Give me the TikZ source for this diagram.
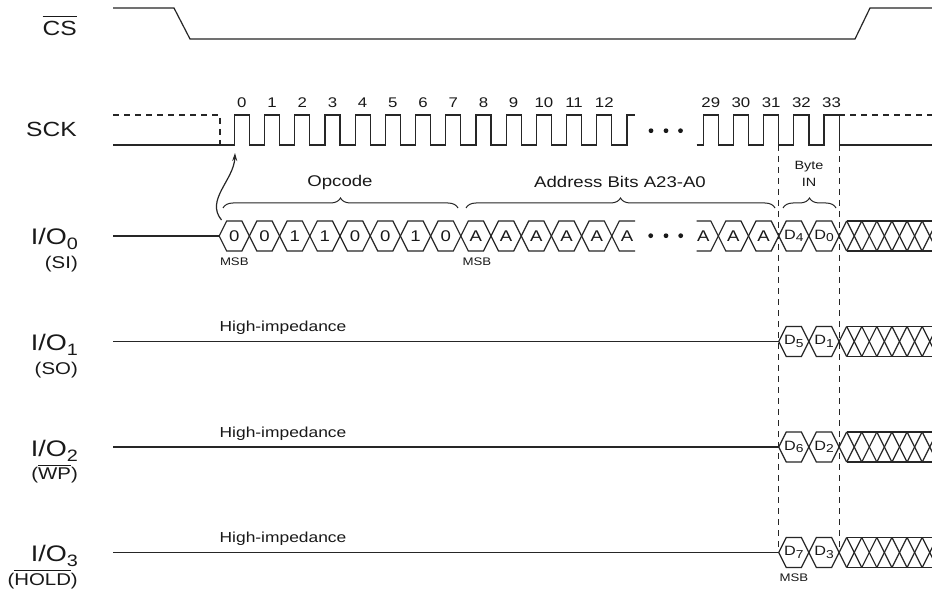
\documentclass[tikz,border=0pt]{standalone}
\usepackage{fontspec}
\setmainfont[FakeStretch=1.2]{Liberation Sans}
\usetikzlibrary{decorations.pathreplacing,arrows.meta}
\newcommand\myovl[2][2pt]{\leavevmode\vbox{\hrule height 1pt\kern#1\hbox{#2}}}
\newcommand\Dsub[1]{D\raisebox{-2.5pt}{\fontsize{11.5}{12}\selectfont #1}}
\newcommand\iosub[1]{\raisebox{-5pt}{\fontsize{16.5}{18}\selectfont #1}}
\newcommand\myhex[3]{% left x, row y, text
  \draw[sig] (#1,#2) -- ++(7.5,-15) -- ++(15.2,0) -- ++(7.5,15) -- ++(-7.5,15) -- ++(-15.2,0) -- cycle;}
\newcommand\myhatch[1]{%
  \begin{scope}
  \clip (835,0) rectangle (932,596);
  \draw[sig] (846.6,#1-15) -- (839.1,#1) -- (846.6,#1+15);
  \draw[sig] (846.6,#1-15) -- (940,#1-15);
  \draw[sig] (846.6,#1+15) -- (940,#1+15);
  \foreach \m in {1,...,7} {
    \draw[sig] ({839.1+15.1*\m-7.5},#1-15) -- ({839.1+15.1*\m+7.5},#1+15);
    \draw[sig] ({839.1+15.1*\m-7.5},#1+15) -- ({839.1+15.1*\m+7.5},#1-15);}
  \end{scope}}
\begin{document}
\begin{tikzpicture}[x=1pt,y=-1pt,
  sig/.style={line width=1.2pt,black!85,line join=miter},
  dsh/.style={sig,dash pattern=on 6pt off 5pt},
  big/.style={font=\fontsize{20.5}{24}\selectfont,inner sep=0pt,text=black!90},
  bigio/.style={font=\fontsize{22.5}{26}\selectfont,inner sep=0pt,text=black!90},
  sub/.style={font=\fontsize{17}{20}\selectfont,inner sep=0pt,text=black!90},
  mid/.style={font=\fontsize{15.5}{18}\selectfont,inner sep=0pt,text=black!90},
  hz/.style={font=\fontsize{14.5}{17}\selectfont,inner sep=0pt,text=black!90},
  num/.style={font=\fontsize{14}{16}\selectfont,inner sep=0pt,text=black!90},
  hexn/.style={font=\fontsize{15.5}{17}\selectfont,inner sep=0pt,text=black!90},
  dn/.style={font=\fontsize{13.5}{16}\selectfont,inner sep=0pt,text=black!90},
  small/.style={font=\fontsize{11}{12}\selectfont,inner sep=0pt,text=black!90},
  byte/.style={font=\fontsize{12}{13}\selectfont,inner sep=0pt,text=black!90},
  brc/.style={sig,line width=1pt,decorate,decoration={brace,amplitude=10pt}}]
\useasboundingbox (0,0) rectangle (932,596);
\fill[white] (0,0) rectangle (932,596);

% labels left
\node[big,anchor=base east] (cs) at (77,36) {\myovl[4.5pt]{CS}};
\node[big,anchor=base east] (sck) at (77,137) {SCK};
\node[bigio,anchor=base east] (io0) at (78,245) {I/O\iosub{0}};
\node[sub,anchor=base east] (si) at (78,268.5) {(SI)};
\node[bigio,anchor=base east] (io1) at (78,350.5) {I/O\iosub{1}};
\node[sub,anchor=base east] (so) at (78,374) {(SO)};
\node[bigio,anchor=base east] (io2) at (78,456) {I/O\iosub{2}};
\node[sub,anchor=base east] (wp) at (78,479.5) {(\myovl[2pt]{WP})};
\node[bigio,anchor=base east] (io3) at (78,561.5) {I/O\iosub{3}};
\node[sub,anchor=base east] (hold) at (78,585) {(\myovl[2pt]{HOLD})};

% CS
\draw[sig] (113,8) -- (174,8) -- (190,39) -- (855,39) -- (870,8) -- (932,8);

% SCK
\draw[dsh] (113,115) -- (220,115) -- (220,145);
\draw[sig] (113,145) \foreach \k in {0,...,12} { -- ({234.3+30.2*\k},145) -- ({234.3+30.2*\k},115) -- ({249.4+30.2*\k},115) -- ({249.4+30.2*\k},145) } -- (626.9,145) -- (626.9,115) -- (635,115);
\draw[sig] (696.7,145) \foreach \j in {0,...,4} { -- ({703.2+30.2*\j},145) -- ({703.2+30.2*\j},115) -- ({718.3+30.2*\j},115) -- ({718.3+30.2*\j},145) } -- (932,145);
\draw[dsh] (839.1,115) -- (932,115);
\foreach \k in {0,...,12} \node[num] (n\k) at ({241.85+30.2*\k},102.5) {\k};
\foreach \j/\t in {0/29,1/30,2/31,3/32,4/33} \node[num] (m\t) at ({710.75+30.2*\j},102.5) {\t};
\foreach \x in {651,666,680.5} \fill[black!90] (\x,130.7) circle (2.4);

% dashed markers
\coordinate (dA) at (778.7,145);
\coordinate (dB) at (839.1,145);
\coordinate (dAe) at (778.7,552.5);
\coordinate (dBe) at (839.1,552.5);
\draw[dsh] (dA) -- (dAe);
\draw[dsh] (dB) -- (dBe);

% braces
\draw[brc] (223,208) -- (458,208);
\draw[brc] (466,208) -- (775,208);
\draw[brc] (783,208) -- (836,208);
\node[mid] (opc) at (340,182) {Opcode};
\node[mid] (adr) at (620,182) {Address Bits A23-A0};
\node[byte] (byt) at (809,166.5) {Byte};
\node[byte] (bin) at (809,182.5) {IN};

% arrow
\coordinate (arS) at (221.5,220);
\coordinate (arE) at (235,153);
\draw[sig,-{Stealth[length=8pt,width=5pt]}] (arS) .. controls (205,200) and (234,180) .. (arE);

% row 0
\draw[sig] (113,236) -- (219.2,236);
\foreach \k/\t in {0/0,1/0,2/1,3/1,4/0,5/0,6/1,7/0,8/A,9/A,10/A,11/A,12/A} {
  \myhex{219.2+30.2*\k}{236}{}
  \node[hexn] (b\k) at ({234.3+30.2*\k},236) {\t};
}
\draw[sig] (635,221) -- (619.3,221) -- (611.8,236) -- (619.3,251) -- (635,251);
\node[hexn] (b13) at (627.1,236) {A};
\foreach \x in {650.7,666,680.7} \fill[black!90] (\x,235.7) circle (2.4);
\draw[sig] (696.7,221) -- (710.8,221) -- (718.3,236) -- (710.8,251) -- (696.7,251);
\node[hexn] (c0) at (703.2,236) {A};
\foreach \j in {1,...,4} \myhex{688.1+30.2*\j}{236}{};
\node[hexn] (c1) at (733.4,236) {A};
\node[hexn] (c2) at (763.6,236) {A};
\node[dn] (d4) at (793.8,236) {\Dsub{4}};
\node[dn] (d0) at (824.0,236) {\Dsub{0}};
\myhatch{236}
\node[small] (msb1) at (234.3,262) {MSB};
\node[small] (msb2) at (476.9,262) {MSB};

% rows 1-3
\foreach \y/\a/\b in {341.5/5/1,447/6/2,552.5/7/3} {
  \draw[sig] (113,\y) -- (778.7,\y);
  \myhex{778.7}{\y}{}
  \myhex{808.9}{\y}{}
  \node[dn] (dd\a) at (793.8,\y) {\Dsub{\a}};
  \node[dn] (dd\b) at (824.0,\y) {\Dsub{\b}};
  \myhatch{\y}
  \node[hz] (hz\a) at (283,\y-13.5) {High-impedance};
}
\node[small] (msb3) at (793.8,578) {MSB};
\end{tikzpicture}
\end{document}
